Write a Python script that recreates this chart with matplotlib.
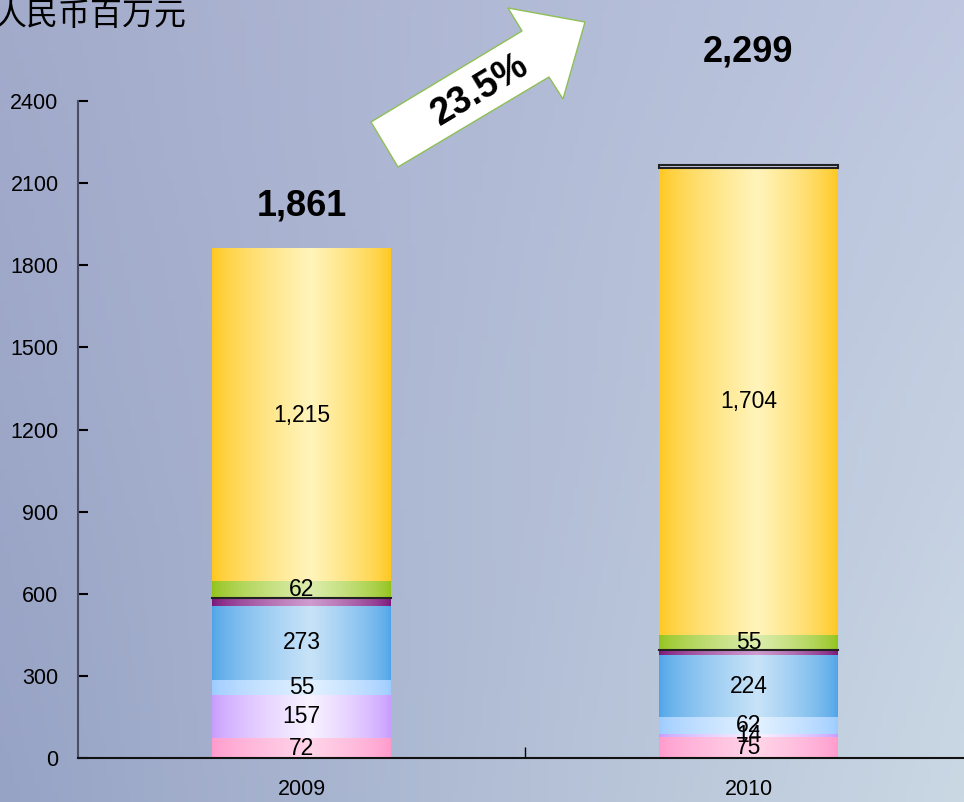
import numpy as np
import matplotlib.pyplot as plt
from matplotlib.colors import LinearSegmentedColormap, to_rgb
from matplotlib.patches import Polygon

plt.rcParams['font.family'] = ['Liberation Sans', 'Noto Sans CJK SC', 'DejaVu Sans']

years = ['2009', '2010']
# stacked segments, bottom to top
seg_pink = [72, 75]
seg_lilac = [157, 14]
seg_lightblue = [55, 62]
seg_blue = [273, 224]
seg_purple = [26, 20]
seg_green = [62, 55]
seg_yellow = [1215, 1704]
seg_other = [0, 12]
totals = ['1,861', '2,299']
growth = '23.5%'
unit = '人民币百万元'

segments = [
    (seg_pink, '#ff99cc', '#ffd4e8', True),
    (seg_lilac, '#c79bff', '#f8f2ff', True),
    (seg_lightblue, '#9ccbff', '#e2f1ff', True),
    (seg_blue, '#4ea4e8', '#c8e3f8', True),
    (seg_purple, '#7a1679', '#cf9ccf', False),
    (seg_green, '#92c31a', '#dcedad', True),
    (seg_yellow, '#ffc71c', '#fff4bb', True),
    (seg_other, '#bfc4e4', '#c8cce8', False),
]

W, H = 964, 802
fig = plt.figure(figsize=(W / 100, H / 100), dpi=100)

# background gradient
bg = fig.add_axes([0, 0, 1, 1], zorder=-10)
tl, tr = np.array(to_rgb('#a3abcb')), np.array(to_rgb('#bec7df'))
bl, br = np.array(to_rgb('#97a3c5')), np.array(to_rgb('#cad8e4'))
u = np.linspace(0, 1, 200)[None, :, None]
v = np.linspace(0, 1, 200)[:, None, None]
img = (1 - v) * ((1 - u) * tl + u * tr) + v * ((1 - u) * bl + u * br)
bg.imshow(img, aspect='auto', extent=[0, 1, 0, 1])
bg.axis('off')

ax = fig.add_axes([78 / W, 1 - 758 / H, (972 - 78) / W, (758 - 101) / H])
ax.set_facecolor('none')
x = np.arange(len(years))
width = 0.40
bottoms = np.zeros(len(years))

prof = np.linspace(0, 1, 256)
prof = 1 - np.abs((prof - 0.55) / np.where(prof < 0.55, 0.55, 0.45))
prof = np.clip(prof, 0, 1) ** 0.7

for vals, edge, center, show in segments:
    cmap = LinearSegmentedColormap.from_list('g', [edge, center])
    bars = ax.bar(x, vals, width, bottom=bottoms, color='none', linewidth=0)
    for i, (b, val) in enumerate(zip(bars, vals)):
        if val <= 0:
            continue
        x0, y0 = b.get_x(), b.get_y()
        ax.imshow(prof[None, :], cmap=cmap, aspect='auto', vmin=0, vmax=1,
                  extent=[x0, x0 + width, y0, y0 + val], zorder=2)
        if show:
            ax.text(x[i], y0 + val / 2, f'{val:,}', ha='center', va='center',
                    fontsize=16.5, zorder=5)
    if edge == '#7a1679':
        for i in range(len(years)):
            ax.plot([x[i] - width / 2, x[i] + width / 2],
                    [bottoms[i] + vals[i]] * 2, color='#222222', lw=1.5, zorder=4)
    if edge == '#bfc4e4':
        for b, val in zip(bars, vals):
            if val > 0:
                ax.add_patch(plt.Rectangle((b.get_x(), b.get_y()), width, val,
                                           fill=False, ec='#222222', lw=1.5, zorder=4))
    bottoms += np.array(vals)

ax.text(0, 2015, totals[0], ha='center', va='center', fontsize=26, fontweight='bold')
ax.text(1, 2580, totals[1], ha='center', va='center', fontsize=26, fontweight='bold',
        clip_on=False)

ax.set_xlim(-0.5, 1.5)
ax.set_ylim(0, 2400)
ax.set_yticks(range(0, 2401, 300))
ax.set_xticks(x)
ax.set_xticklabels(years)
ax.set_xticks([0.5], minor=True)
ax.tick_params(axis='y', direction='in', length=7, width=1.5, labelsize=15.5, pad=14)
ax.tick_params(axis='x', which='major', length=0, labelsize=15.5, pad=15)
ax.tick_params(axis='x', which='minor', direction='in', length=8, width=1)
for s in ['top', 'right']:
    ax.spines[s].set_visible(False)
ax.spines['left'].set_color('#4a4f66')
ax.spines['left'].set_linewidth(1.5)
ax.spines['bottom'].set_color('#111111')
ax.spines['bottom'].set_linewidth(1.5)

# growth arrow
pts = [(371, 122), (398, 167), (549, 77), (563, 99), (585, 22), (508, 8), (522, 31)]
arrow = Polygon([(px / W, 1 - py / H) for px, py in pts], closed=True,
                transform=fig.transFigure, fc='white', ec='#8fbf55', lw=1, zorder=6)
fig.patches.append(arrow)
fig.text(480 / W, 1 - 90 / H, growth, rotation=31, ha='center', va='center',
         fontsize=27, fontweight='bold', zorder=7)

fig.text(-0.006, 1 - 16 / H, unit, ha='left', va='center', fontsize=23,
         family=['Noto Sans CJK SC', 'DejaVu Sans'])

fig.savefig('out.png', dpi=100)
